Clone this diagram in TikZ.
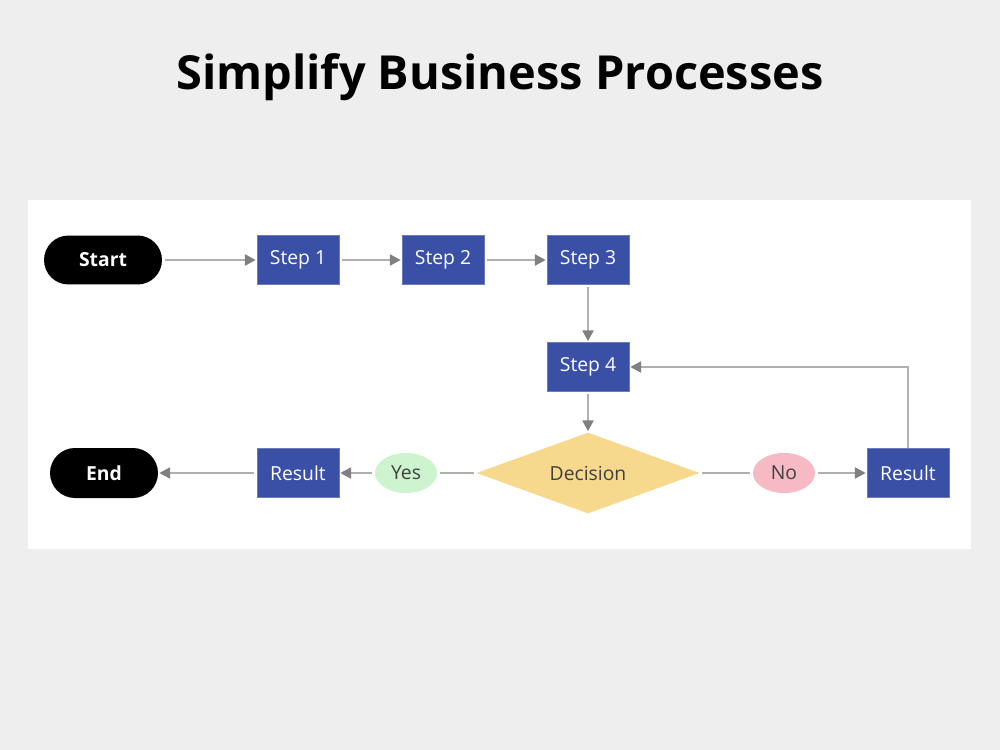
\documentclass[tikz,border=0pt]{standalone}
\usepackage{fontspec}
\setmainfont{Open Sans}
\usetikzlibrary{shapes.geometric,arrows.meta}
\definecolor{stepblue}{HTML}{3A4FA6}
\definecolor{decyellow}{HTML}{F6D98C}
\definecolor{yesgreen}{HTML}{CDF3CF}
\definecolor{nopink}{HTML}{F7B9C3}
\definecolor{linegray}{HTML}{B0B0B0}
\definecolor{tipgray}{HTML}{808080}
\definecolor{bggray}{HTML}{EEEEEE}
\begin{document}
\begin{tikzpicture}[x=0.02cm,y=-0.02cm,
  font=\fontsize{11}{13}\selectfont,
  term/.style={fill=black,text=white,rounded corners=0.49cm,minimum height=0.98cm,
    font=\fontsize{11}{13}\selectfont\bfseries},
  stepbox/.style={fill=stepblue,draw=stepblue!75!white,text=white,minimum width=1.64cm,minimum height=0.98cm},
  choice/.style={diamond,aspect=2.75,fill=decyellow,text=black!75,minimum width=4.46cm,minimum height=1.62cm,inner sep=0pt},
  answer/.style={ellipse,text=black!75,minimum width=1.24cm,minimum height=0.8cm,inner sep=0pt},
  link/.style={draw=linegray,line width=1.4pt,shorten <=1.5pt,shorten >=1.5pt},
  flow/.style={link,shorten >=0.5pt,-{Triangle[color=tipgray,length=0.22cm,width=0.22cm]}}]
\fill[bggray] (0,0) rectangle (1000,750);
\fill[white] (28,200) rectangle (971,549);
\node[font=\fontsize{26.7}{31}\selectfont\bfseries] (title) at (500,77) {Simplify Business Processes};
\node[term,minimum width=2.36cm] (start) at (103,260) {Start};
\node[stepbox] (s1) at (298,260) {Step 1};
\node[stepbox] (s2) at (443,260) {Step 2};
\node[stepbox] (s3) at (588,260) {Step 3};
\node[stepbox] (s4) at (588,367) {Step 4};
\node[choice] (dec) at (588,473) {Decision};
\node[answer,fill=nopink] (no) at (784,473) {No};
\node[stepbox] (res2) at (908,473) {Result};
\node[answer,fill=yesgreen] (yes) at (406,473) {Yes};
\node[stepbox] (res1) at (298,473) {Result};
\node[term,minimum width=2.16cm,minimum height=1cm,rounded corners=0.5cm] (end) at (104,473) {End};
\draw[flow] (start) -- (s1);
\draw[flow] (s1) -- (s2);
\draw[flow] (s2) -- (s3);
\draw[flow] (s3) -- (s4);
\draw[flow] (s4) -- (dec);
\draw[link] (dec) -- (no);
\draw[flow] (no) -- (res2);
\draw[flow,shorten <=0pt] (res2.north) |- (s4.east);
\draw[link] (dec) -- (yes);
\draw[flow] (yes) -- (res1);
\draw[flow] (res1) -- (end);
\end{tikzpicture}
\end{document}
